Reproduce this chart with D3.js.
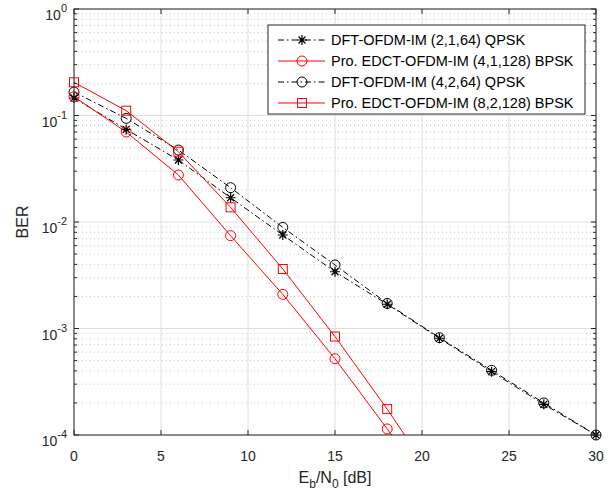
<!DOCTYPE html>
<html>
<head>
<meta charset="utf-8">
<script src="https://cdn.jsdelivr.net/npm/d3@7"></script>
<style>
  html, body { margin: 0; padding: 0; background: #fff; }
  svg { display: block; font-family: Arial, "Liberation Sans", Helvetica, sans-serif; }
</style>
</head>
<body>
<script>
// Eb/N0 points (dB)
const snr = [0, 3, 6, 9, 12, 15, 18, 21, 24, 27, 30];
const snrEdct = [0, 3, 6, 9, 12, 15, 18, 21];

// BER curves
const dft2164 = [0.146, 0.074, 0.0382, 0.0169, 0.00755, 0.00341, 0.00169, 0.00081, 0.000393, 0.000194, 0.0001];
const dft4264 = [0.166, 0.094, 0.0474, 0.021, 0.0089, 0.00395, 0.00172, 0.00082, 0.000405, 0.0002, 0.0001];
const edct41128 = [0.150, 0.070, 0.0276, 0.00744, 0.00209, 0.00052, 0.000114, 0.000025];
const edct82128 = [0.205, 0.111, 0.0457, 0.01374, 0.00362, 0.00084, 0.000175, 0.000033];

const series = [
  { name: "DFT-OFDM-IM (2,1,64) QPSK", x: snr, y: dft2164, color: "#000", dash: "6,3,1.5,3", marker: "star" },
  { name: "Pro. EDCT-OFDM-IM (4,1,128) BPSK", x: snrEdct, y: edct41128, color: "#ff0000", dash: null, marker: "circle" },
  { name: "DFT-OFDM-IM (4,2,64) QPSK", x: snr, y: dft4264, color: "#000", dash: "6,3,1.5,3", marker: "circle" },
  { name: "Pro. EDCT-OFDM-IM (8,2,128) BPSK", x: snrEdct, y: edct82128, color: "#ff0000", dash: null, marker: "square" }
];

const xTicks = [0, 5, 10, 15, 20, 25, 30];
const yDecades = [0, -1, -2, -3, -4];

const width = 616, height = 497;
const margin = { left: 74, right: 20, top: 9, bottom: 62 };
const plotW = width - margin.left - margin.right;
const plotH = height - margin.top - margin.bottom;

const x = d3.scaleLinear().domain([0, 30]).range([0, plotW]);
const y = d3.scaleLog().domain([1e-4, 1]).range([plotH, 0]);

const svg = d3.select("body").append("svg")
  .attr("width", width).attr("height", height);

const g = svg.append("g").attr("transform", `translate(${margin.left},${margin.top})`);

// minor grid (dotted)
const minorVals = [];
for (let e = -4; e < 0; e++) for (let m = 2; m <= 9; m++) minorVals.push(m * Math.pow(10, e));
g.append("g").selectAll("line").data(minorVals).join("line")
  .attr("x1", 0).attr("x2", plotW)
  .attr("y1", d => y(d)).attr("y2", d => y(d))
  .attr("stroke", "#c8c8c8").attr("stroke-width", 1)
  .attr("stroke-dasharray", "1,3");

// major grid
g.append("g").selectAll("line").data(xTicks).join("line")
  .attr("x1", d => x(d)).attr("x2", d => x(d))
  .attr("y1", 0).attr("y2", plotH)
  .attr("stroke", "#dedede").attr("stroke-width", 1);
g.append("g").selectAll("line").data(yDecades).join("line")
  .attr("x1", 0).attr("x2", plotW)
  .attr("y1", d => y(Math.pow(10, d))).attr("y2", d => y(Math.pow(10, d)))
  .attr("stroke", "#dedede").attr("stroke-width", 1);

// clip
svg.append("defs").append("clipPath").attr("id", "clip")
  .append("rect").attr("width", plotW).attr("height", plotH);

const plot = g.append("g").attr("clip-path", "url(#clip)");

const line = d3.line().x(d => x(d[0])).y(d => y(d[1]));

series.forEach(s => {
  const pts = s.x.map((v, i) => [v, s.y[i]]);
  plot.append("path")
    .datum(pts)
    .attr("d", line)
    .attr("fill", "none")
    .attr("stroke", s.color)
    .attr("stroke-width", 1)
    .attr("stroke-dasharray", s.dash);
});

function drawMarker(sel, type, color, cx, cy) {
  if (type === "circle") {
    sel.append("circle").attr("cx", cx).attr("cy", cy).attr("r", 5)
      .attr("fill", "none").attr("stroke", color).attr("stroke-width", 1);
  } else if (type === "square") {
    sel.append("rect").attr("x", cx - 4.5).attr("y", cy - 4.5).attr("width", 9).attr("height", 9)
      .attr("fill", "none").attr("stroke", color).attr("stroke-width", 1);
  } else if (type === "star") {
    const r = 5;
    const p = `M${cx - r},${cy}L${cx + r},${cy}M${cx},${cy - r}L${cx},${cy + r}` +
      `M${cx - r * 0.7},${cy - r * 0.7}L${cx + r * 0.7},${cy + r * 0.7}` +
      `M${cx - r * 0.7},${cy + r * 0.7}L${cx + r * 0.7},${cy - r * 0.7}`;
    sel.append("path").attr("d", p).attr("stroke", color).attr("stroke-width", 1.2).attr("fill", "none");
  }
}

const markerLayer = g.append("g");
series.forEach(s => {
  s.x.forEach((v, i) => {
    const val = s.y[i];
    if (val < 1e-4 * 0.999) return;
    drawMarker(markerLayer, s.marker, s.color, x(v), y(val));
  });
});

// axes box
const axisColor = "#262626";
g.append("rect").attr("width", plotW).attr("height", plotH)
  .attr("fill", "none").attr("stroke", axisColor).attr("stroke-width", 1);

// ticks (inward) on all four sides
const tk = 5;
xTicks.forEach(t => {
  g.append("line").attr("x1", x(t)).attr("x2", x(t)).attr("y1", plotH).attr("y2", plotH - tk).attr("stroke", axisColor);
  g.append("line").attr("x1", x(t)).attr("x2", x(t)).attr("y1", 0).attr("y2", tk).attr("stroke", axisColor);
});
yDecades.forEach(d => {
  const yy = y(Math.pow(10, d));
  g.append("line").attr("x1", 0).attr("x2", tk).attr("y1", yy).attr("y2", yy).attr("stroke", axisColor);
  g.append("line").attr("x1", plotW).attr("x2", plotW - tk).attr("y1", yy).attr("y2", yy).attr("stroke", axisColor);
});
minorVals.forEach(v => {
  const yy = y(v);
  g.append("line").attr("x1", 0).attr("x2", 3).attr("y1", yy).attr("y2", yy).attr("stroke", axisColor);
  g.append("line").attr("x1", plotW).attr("x2", plotW - 3).attr("y1", yy).attr("y2", yy).attr("stroke", axisColor);
});

// x tick labels
g.append("g").selectAll("text").data(xTicks).join("text")
  .attr("x", d => x(d)).attr("y", plotH + 26)
  .attr("text-anchor", "middle")
  .attr("font-size", 14).attr("fill", axisColor)
  .text(d => d);

// y tick labels 10^n
yDecades.forEach(d => {
  const t = g.append("text")
    .attr("x", -7).attr("y", y(Math.pow(10, d)) + 11)
    .attr("text-anchor", "end")
    .attr("font-size", 14).attr("fill", axisColor);
  t.append("tspan").text("10");
  t.append("tspan").attr("dy", -8).attr("font-size", 11).text(d);
});

// axis labels
const xl = svg.append("text")
  .attr("x", margin.left + plotW / 2).attr("y", height - 14)
  .attr("text-anchor", "middle").attr("font-size", 16).attr("fill", axisColor);
xl.append("tspan").text("E");
xl.append("tspan").attr("dy", 5).attr("font-size", 12).text("b");
xl.append("tspan").attr("dy", -5).text("/N");
xl.append("tspan").attr("dy", 5).attr("font-size", 12).text("0");
xl.append("tspan").attr("dy", -5).text(" [dB]");

svg.append("text")
  .attr("transform", `translate(28,${margin.top + plotH / 2}) rotate(-90)`)
  .attr("text-anchor", "middle").attr("font-size", 16).attr("fill", axisColor)
  .text("BER");

// legend
const lg = svg.append("g").attr("transform", "translate(268,25)");
lg.append("rect").attr("width", 317).attr("height", 89)
  .attr("fill", "#fff").attr("stroke", axisColor).attr("stroke-width", 1);
series.forEach((s, i) => {
  const yy = 15 + i * 21;
  lg.append("line").attr("x1", 10).attr("x2", 57).attr("y1", yy).attr("y2", yy)
    .attr("stroke", s.color).attr("stroke-width", 1).attr("stroke-dasharray", s.dash);
  drawMarker(lg, s.marker, s.color, 34, yy);
  lg.append("text").attr("x", 63).attr("y", yy + 5)
    .attr("font-size", 14.5).attr("fill", "#000").text(s.name);
});
</script>
</body>
</html>
